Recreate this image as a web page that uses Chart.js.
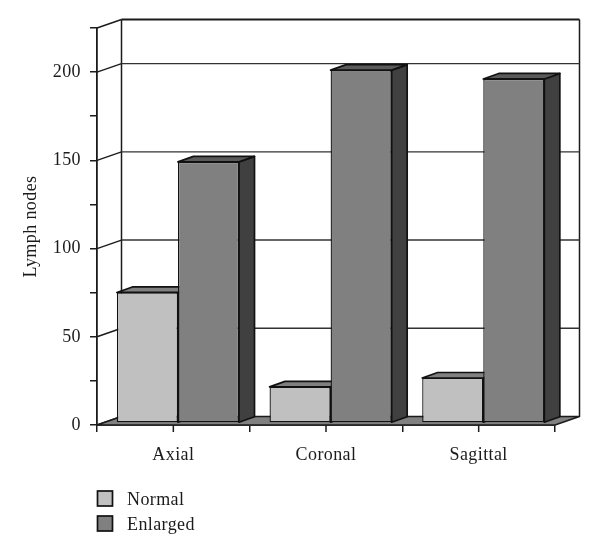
<!DOCTYPE html>
<html>
<head>
<meta charset="utf-8">
<style>html,body{margin:0;padding:0;background:#fff}canvas{display:block}</style>
<script src="https://cdn.jsdelivr.net/npm/chart.js@4"></script>
</head>
<body>
<canvas id="c" width="600" height="557"></canvas>
<script>
const categories = ['Axial', 'Coronal', 'Sagittal'];
const normalValues = [74, 20.5, 25.5];
const enlargedValues = [148, 200, 195];
const seriesNames = ['Normal', 'Enlarged'];
const seriesColors = ['#c0c0c0', '#808080'];
const yAxisTitle = 'Lymph nodes';
const labelledStep = 50;
const FONT = '"Liberation Serif", serif';
const FS = 18;
const INK = '#1c1a1b';
const WALL = {dx: 24.5, dy: -8.5};
const BAR_SHIFT = {dx: 4.6, dy: -2};
const BAR_DEPTH = {dx: 15.5, dy: -5.5};

function poly(ctx, pts, fill, stroke, lw) {
  ctx.beginPath();
  pts.forEach((p, i) => i ? ctx.lineTo(p[0], p[1]) : ctx.moveTo(p[0], p[1]));
  ctx.closePath();
  if (fill) { ctx.fillStyle = fill; ctx.fill(); }
  if (stroke) { ctx.strokeStyle = stroke; ctx.lineWidth = lw; ctx.lineJoin = 'round'; ctx.stroke(); }
}
function seg(ctx, x1, y1, x2, y2, color, lw) {
  ctx.beginPath(); ctx.moveTo(x1, y1); ctx.lineTo(x2, y2);
  ctx.strokeStyle = color; ctx.lineWidth = lw; ctx.stroke();
}

const box3d = {
  id: 'box3d',
  beforeUpdate(chart) { chart.ctx.letterSpacing = '0.4px'; },
  beforeDatasetsDraw(chart) {
    const ctx = chart.ctx, x = chart.scales.x, y = chart.scales.y;
    const L = x.left, R = x.right, B = y.getPixelForValue(0), T = y.getPixelForValue(y.max);
    ctx.save();
    seg(ctx, L + WALL.dx, T + WALL.dy, R + WALL.dx, T + WALL.dy, INK, 1.8);
    seg(ctx, L + WALL.dx, T + WALL.dy, L + WALL.dx, B + WALL.dy, INK, 1.5);
    seg(ctx, R + WALL.dx, T + WALL.dy, R + WALL.dx, B + WALL.dy, INK, 1.5);
    y.ticks.forEach(t => {
      if (t.value % labelledStep !== 0 && t.value !== y.max) return;
      const py = y.getPixelForValue(t.value);
      seg(ctx, L, py, L + WALL.dx, py + WALL.dy, INK, 1.4);
      if (t.value !== 0 && t.value !== y.max) seg(ctx, L + WALL.dx, py + WALL.dy, R + WALL.dx, py + WALL.dy, '#333', 1.4);
    });
    poly(ctx, [[L, B], [R, B], [R + WALL.dx, B + WALL.dy], [L + WALL.dx, B + WALL.dy]], '#808080', INK, 1.5);
    [0, 1].forEach(ds => {
      chart.getDatasetMeta(ds).data.forEach(bar => {
        const hw = bar.width / 2;
        const x0 = bar.x - hw + BAR_SHIFT.dx, x1 = bar.x + hw + BAR_SHIFT.dx;
        const yt = bar.y + BAR_SHIFT.dy, yb = bar.base + BAR_SHIFT.dy;
        const d = BAR_DEPTH;
        poly(ctx, [[x1, yt], [x1, yb], [x1 + d.dx, yb + d.dy], [x1 + d.dx, yt + d.dy]], '#404040', '#111', 1.7);
        poly(ctx, [[x0, yt], [x1, yt], [x1 + d.dx, yt + d.dy], [x0 + d.dx, yt + d.dy]], ds === 0 ? '#808080' : '#5a5a5a', '#111', 1.7);
      });
    });
    categories.forEach((c, i) => {
      const px = x.getPixelForValue(i);
      seg(ctx, px, B, px, B + 7, INK, 1.5);
    });
    ctx.restore();
  },
  beforeDatasetDraw(chart) {
    chart.ctx.save();
    chart.ctx.translate(BAR_SHIFT.dx, BAR_SHIFT.dy);
  },
  afterDatasetDraw(chart) {
    chart.ctx.restore();
  },
  afterDraw(chart) {
    const ctx = chart.ctx;
    ctx.save();
    ctx.font = FS + 'px ' + FONT;
    ctx.textBaseline = 'middle';
    seriesNames.forEach((n, i) => {
      const top = 491 + i * 25;
      ctx.fillStyle = seriesColors[i];
      ctx.strokeStyle = '#111';
      ctx.lineWidth = 1.7;
      ctx.fillRect(97.5, top, 15, 15);
      ctx.strokeRect(97.5, top, 15, 15);
      ctx.fillStyle = INK;
      ctx.fillText(n, 127, top + 9);
    });
    ctx.restore();
  }
};

new Chart(document.getElementById('c'), {
  type: 'bar',
  data: {
    labels: categories,
    datasets: [
      {label: seriesNames[0], data: normalValues, backgroundColor: seriesColors[0], borderColor: '#111', borderWidth: 1.3, borderSkipped: false},
      {label: seriesNames[1], data: enlargedValues, backgroundColor: seriesColors[1], borderColor: '#111', borderWidth: 1.3, borderSkipped: false}
    ]
  },
  options: {
    responsive: false,
    animation: false,
    devicePixelRatio: 1,
    layout: {padding: {left: 0, top: 28, right: 45, bottom: 92}},
    categoryPercentage: 0.8,
    barPercentage: 1,
    plugins: {legend: {display: false}, title: {display: false}, tooltip: {enabled: false}},
    scales: {
      x: {
        afterFit(s) { s.height = 40; },
        grid: {drawOnChartArea: false, drawTicks: true, tickLength: 7, color: INK, lineWidth: 1.5},
        border: {display: true, color: INK, width: 1.8},
        ticks: {color: INK, font: {family: FONT, size: FS}, padding: 12, maxRotation: 0}
      },
      y: {
        min: 0, max: 225,
        afterFit(s) { s.width = 97; },
        grid: {drawOnChartArea: false, drawTicks: true, tickLength: 7, color: INK, lineWidth: 1.5},
        border: {display: true, color: INK, width: 1.8},
        title: {display: true, text: yAxisTitle, color: INK, font: {family: FONT, size: FS}, padding: {top: 20, bottom: 0}, align: 'center'},
        ticks: {
          stepSize: 25, color: INK, font: {family: FONT, size: FS}, padding: 9,
          callback(v) { return (v % labelledStep === 0) ? String(v) : ''; }
        }
      }
    }
  },
  plugins: [box3d]
});
</script>
</body>
</html>
